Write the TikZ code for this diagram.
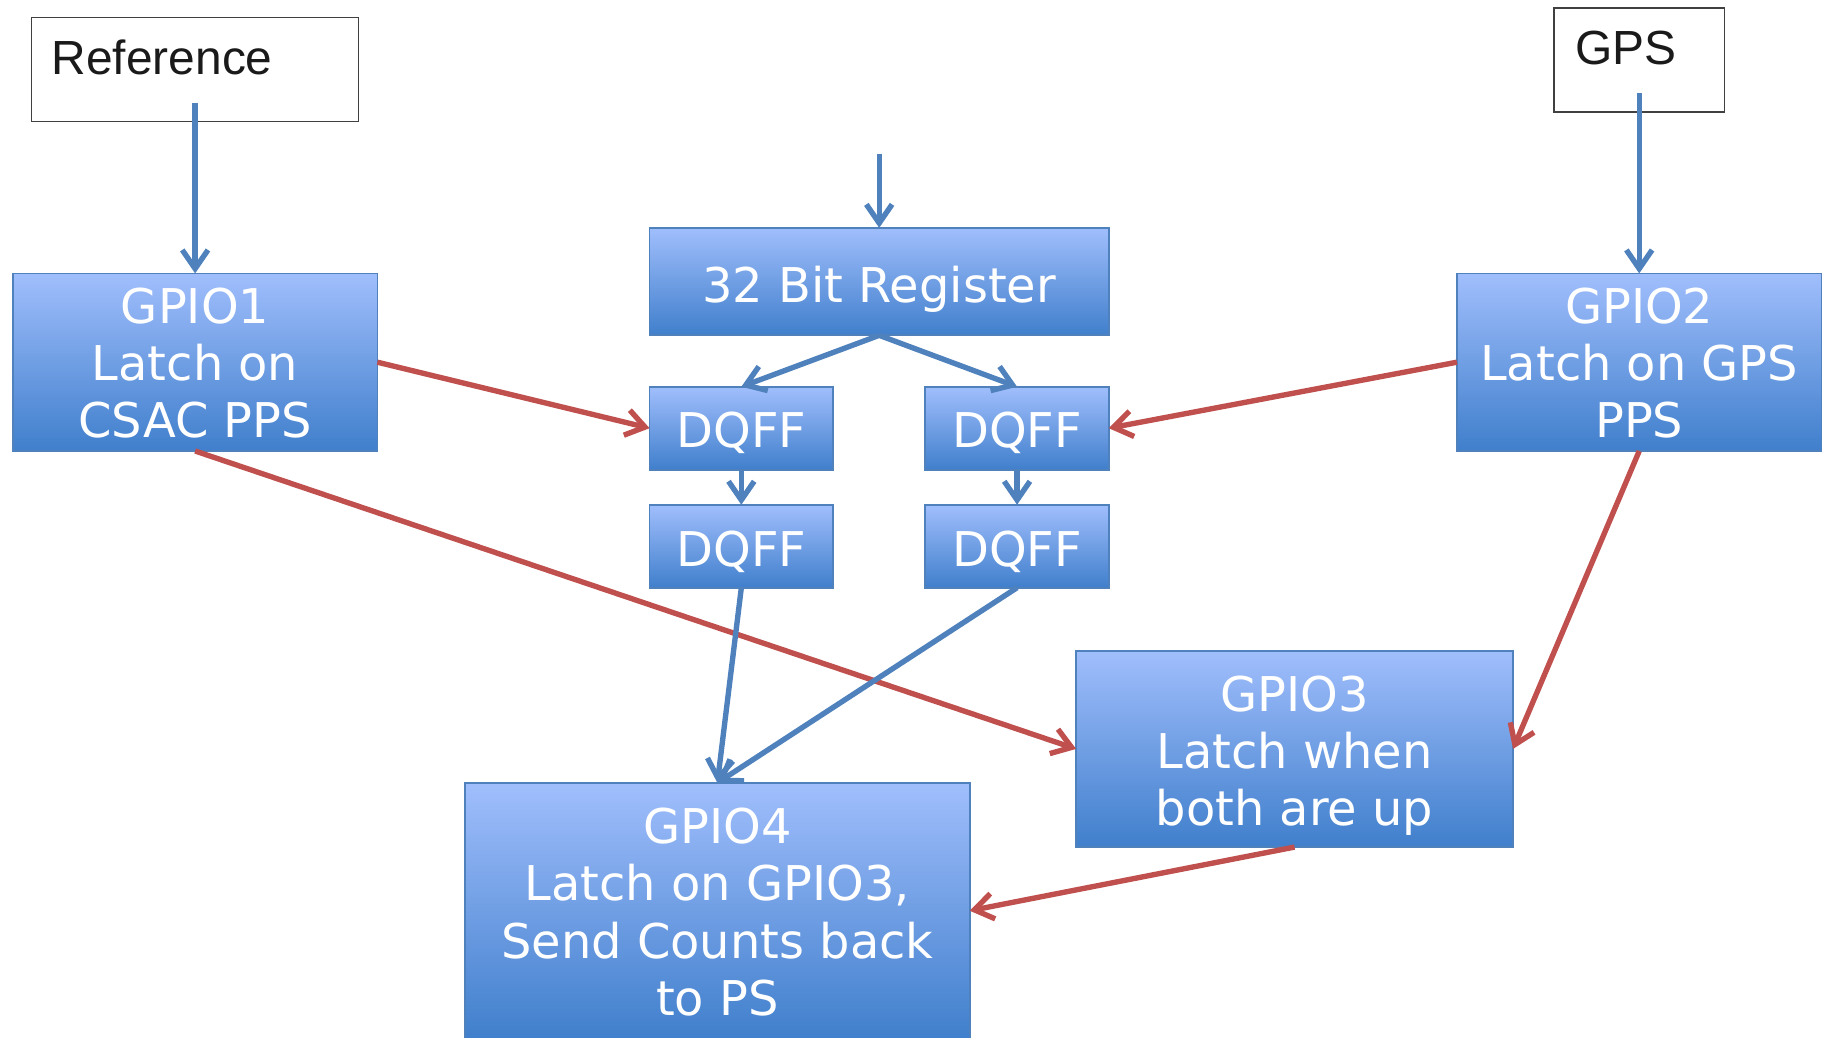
\documentclass[tikz,border=0pt]{standalone}
\usepackage{fontspec}
\setmainfont{DejaVu Sans}
\newfontfamily\arialfont{Liberation Sans}
\usetikzlibrary{arrows.meta}
\definecolor{lineblue}{HTML}{4F81BD}
\definecolor{linered}{HTML}{C0504D}
\definecolor{boxtop}{HTML}{A0BEFC}
\definecolor{boxbot}{HTML}{407FCC}
\definecolor{boxedge}{HTML}{4F81BD}
\definecolor{inkblack}{HTML}{1A1A1A}
\definecolor{framegray}{HTML}{404040}
\begin{document}
\begin{tikzpicture}[x=1pt,y=-1pt,
  blockbox/.style={rectangle, draw=boxedge, line width=1.5pt, top color=boxtop, bottom color=boxbot, inner sep=0pt, outer sep=0pt},
  blocktext/.style={text=white, align=center, inner sep=0pt, anchor=north, font=\fontsize{41}{49}\selectfont},
  plainbox/.style={rectangle, draw=framegray, line width=1.2pt, fill=white, inner sep=0pt, outer sep=0pt},
  plaintext/.style={text=inkblack, inner sep=0pt, anchor=base west, font=\arialfont\fontsize{41}{49}\selectfont},
  bluearrow/.style={draw=lineblue, line width=4.6pt, -{Straight Barb[length=16pt,width=22pt,sharp]}},
  redarrow/.style={draw=linered, line width=4.6pt, -{Straight Barb[length=16pt,width=22pt,sharp]}}
]
\useasboundingbox (0,0) rectangle (1568,888);

% input boxes
\node[plainbox, minimum width=280pt, minimum height=89pt] (refbox) at (167,59.5) {};
\node[plaintext] (reftext) at (44,63.5) {Reference};
\node[plainbox, minimum width=146pt, minimum height=89pt] (gpsbox) at (1403,51.5) {};
\node[plaintext] (gpstext) at (1348,55.6) {GPS};

% blocks
\node[blockbox, minimum width=393pt, minimum height=92pt] (reg) at (752.5,241) {};
\node[blockbox, minimum width=312pt, minimum height=152pt] (g1) at (167,310) {};
\node[blockbox, minimum width=312pt, minimum height=152pt] (g2) at (1403,310) {};
\node[blockbox, minimum width=157pt, minimum height=71pt] (dq1) at (634.5,366.5) {};
\node[blockbox, minimum width=157pt, minimum height=71pt] (dq2) at (870.5,366.5) {};
\node[blockbox, minimum width=157pt, minimum height=71pt] (dq3) at (634.5,467.5) {};
\node[blockbox, minimum width=157pt, minimum height=71pt] (dq4) at (870.5,467.5) {};
\node[blockbox, minimum width=374pt, minimum height=168pt] (g3) at (1108,641) {};
\node[blockbox, minimum width=432pt, minimum height=219pt] (g4) at (614,779.5) {};

% block texts
\node[blocktext] (regt) at (752.5,227.5) {32 Bit Register};
\node[blocktext] (g1t) at (167,246) {GPIO1\\Latch on\\CSAC PPS};
\node[blocktext] (g2t) at (1403,246) {GPIO2\\Latch on GPS\\PPS};
\node[blocktext] (dq1t) at (634.5,352) {DQFF};
\node[blocktext] (dq2t) at (870.5,352) {DQFF};
\node[blocktext] (dq3t) at (634.5,454) {DQFF};
\node[blocktext] (dq4t) at (870.5,454) {DQFF};
\node[blocktext] (g3t) at (1108,578) {GPIO3\\Latch when\\both are up};
\node[blocktext] (g4t) at (614,691.5) {GPIO4\\Latch on GPIO3,\\Send Counts back\\to PS};

% free ends
\coordinate (refsrc) at (167,88);
\coordinate (gpssrc) at (1403,80);
\coordinate (regsrc) at (752.5,132);

% red connectors
\draw[redarrow] (g1.east) -- (dq1.west);
\draw[redarrow] (g2.west) -- (dq2.east);
\draw[redarrow] (g1.south) -- (g3.west);
\draw[redarrow] (g2.south) -- (g3.east);
\draw[redarrow] (g3.south) -- (g4.east);

% blue connectors
\draw[bluearrow] (refsrc) -- (g1.north);
\draw[bluearrow] (gpssrc) -- (g2.north);
\draw[bluearrow] (regsrc) -- (reg.north);
\draw[bluearrow] (reg.south) -- (dq1.north);
\draw[bluearrow] (reg.south) -- (dq2.north);
\draw[bluearrow] (dq1.south) -- (dq3.north);
\draw[bluearrow] (dq2.south) -- (dq4.north);
\draw[bluearrow] (dq3.south) -- (g4.north);
\draw[bluearrow] (dq4.south) -- (g4.north);
\end{tikzpicture}
\end{document}
